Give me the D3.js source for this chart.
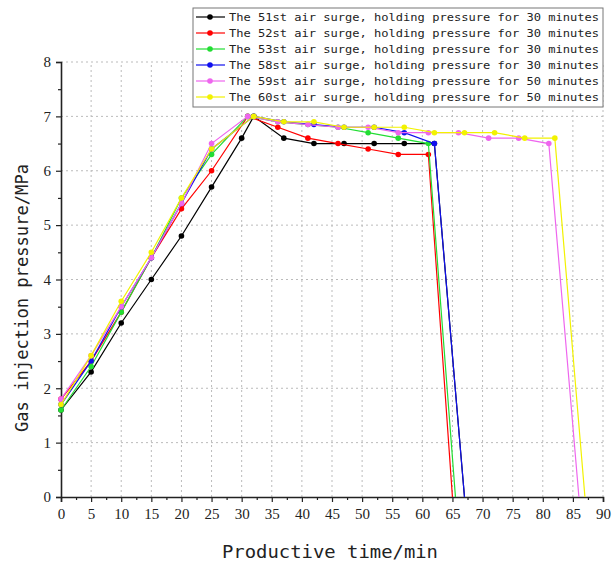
<!DOCTYPE html>
<html>
<head>
<meta charset="utf-8">
<script src="https://cdn.jsdelivr.net/npm/d3@7"></script>
<style>
  body { margin: 0; background: #fff; }
</style>
</head>
<body>
<div id="chart"></div>
<script>
// series data: [time/min, pressure/MPa]
const s51 = [[0,1.6],[5,2.3],[10,3.2],[15,4.0],[20,4.8],[25,5.7],[30,6.6],[32,7.0],[37,6.6],[42,6.5],[47,6.5],[52,6.5],[57,6.5],[62,6.5],[67,0]];
const s52 = [[0,1.8],[5,2.5],[10,3.4],[15,4.4],[20,5.3],[25,6.0],[31,7.0],[36,6.8],[41,6.6],[46,6.5],[51,6.4],[56,6.3],[61,6.3],[65,0]];
const s53 = [[0,1.6],[5,2.4],[10,3.4],[15,4.4],[20,5.5],[25,6.3],[31,7.0],[36,6.9],[41,6.85],[46,6.8],[51,6.7],[56,6.6],[61,6.5],[65.5,0]];
const s58 = [[0,1.7],[5,2.5],[10,3.5],[15,4.4],[20,5.4],[25,6.4],[32,7.0],[37,6.9],[42,6.85],[47,6.8],[52,6.8],[57,6.7],[62,6.5],[67,0]];
const s59 = [[0,1.8],[5,2.6],[10,3.5],[15,4.4],[20,5.4],[25,6.5],[31,7.0],[36,6.9],[41,6.85],[46,6.8],[51,6.8],[56,6.7],[61,6.7],[66,6.7],[71,6.6],[76,6.6],[81,6.5],[86,0]];
const s60 = [[0,1.7],[5,2.6],[10,3.6],[15,4.5],[20,5.5],[25,6.4],[32,7.0],[37,6.9],[42,6.9],[47,6.8],[52,6.8],[57,6.8],[62,6.7],[67,6.7],[72,6.7],[77,6.6],[82,6.6],[87,0]];

const seriesNames = [
  "The 51st air surge, holding pressure for 30 minutes",
  "The 52st air surge, holding pressure for 30 minutes",
  "The 53st air surge, holding pressure for 30 minutes",
  "The 58st air surge, holding pressure for 30 minutes",
  "The 59st air surge, holding pressure for 50 minutes",
  "The 60st air surge, holding pressure for 50 minutes"
];
const seriesValues = [s51, s52, s53, s58, s59, s60];
const colors = ["#000000", "#ff0000", "#22dd33", "#1010ee", "#ee66ee", "#f2f200"];

const xTicks = d3.range(0, 91, 5);
const yTicks = d3.range(0, 9, 1);

const width = 615, height = 564;
const svg = d3.select("#chart").append("svg")
  .attr("width", width)
  .attr("height", height);

const x = d3.scaleLinear().domain([0, 90]).range([61, 603]);
const y = d3.scaleLinear().domain([0, 8]).range([497, 62]);

// dotted grid
svg.append("g").selectAll("line")
  .data(xTicks.filter(d => d > 0))
  .enter().append("line")
  .attr("x1", d => x(d)).attr("x2", d => x(d))
  .attr("y1", y(0)).attr("y2", y(8))
  .attr("stroke", "#bbb")
  .attr("stroke-dasharray", "2,3");
svg.append("g").selectAll("line")
  .data(yTicks.filter(d => d > 0))
  .enter().append("line")
  .attr("x1", x(0)).attr("x2", x(90))
  .attr("y1", d => y(d)).attr("y2", d => y(d))
  .attr("stroke", "#bbb")
  .attr("stroke-dasharray", "2,3");

// axes
const xAxis = svg.append("g")
  .attr("transform", `translate(0,${y(0)})`)
  .call(d3.axisBottom(x).tickValues(xTicks).tickSize(5).tickPadding(6));
svg.append("g")
  .attr("transform", `translate(0,${y(0)})`)
  .call(d3.axisBottom(x).tickValues(d3.range(2.5, 90, 5)).tickSize(3).tickFormat(""))
  .select(".domain").remove();
const yAxis = svg.append("g")
  .attr("transform", `translate(${x(0)},0)`)
  .call(d3.axisLeft(y).tickValues(yTicks).tickSize(5).tickPadding(5));
svg.append("g")
  .attr("transform", `translate(${x(0)},0)`)
  .call(d3.axisLeft(y).tickValues(d3.range(0.5, 8, 1)).tickSize(3).tickFormat(""))
  .select(".domain").remove();

svg.selectAll(".domain").attr("stroke", "#222").attr("stroke-width", 1.6);
svg.selectAll(".tick line").attr("stroke", "#222").attr("stroke-width", 1.2);
[xAxis, yAxis].forEach(a => a.selectAll("text")
  .style("font-family", "'Liberation Serif', serif")
  .style("font-size", "15px")
  .attr("fill", "#222"));

// series
const line = d3.line().x(d => x(d[0])).y(d => y(d[1]));
seriesValues.forEach((vals, i) => {
  svg.append("path")
    .datum(vals)
    .attr("d", line)
    .attr("fill", "none")
    .attr("stroke", colors[i])
    .attr("stroke-width", 1.2);
  svg.append("g").selectAll("circle")
    .data(vals.filter(d => d[1] > 0))
    .enter().append("circle")
    .attr("cx", d => x(d[0]))
    .attr("cy", d => y(d[1]))
    .attr("r", 2.8)
    .attr("fill", colors[i]);
});

// legend
const legend = svg.append("g");
legend.append("rect")
  .attr("x", 193).attr("y", 8)
  .attr("width", 410).attr("height", 99)
  .attr("fill", "#fff")
  .attr("stroke", "#777");
seriesNames.forEach((name, i) => {
  const ly = 17 + i * 16;
  legend.append("line")
    .attr("x1", 196).attr("x2", 225)
    .attr("y1", ly).attr("y2", ly)
    .attr("stroke", colors[i]).attr("stroke-width", 1.2);
  legend.append("circle")
    .attr("cx", 210).attr("cy", ly).attr("r", 2.8)
    .attr("fill", colors[i]);
  legend.append("text")
    .attr("x", 229).attr("y", ly + 4)
    .attr("textLength", 370)
    .attr("lengthAdjust", "spacingAndGlyphs")
    .style("font-family", "'DejaVu Sans Mono', monospace")
    .style("font-size", "11px")
    .attr("fill", "#222")
    .text(name);
});

// axis titles
svg.append("text")
  .attr("x", 330).attr("y", 558)
  .attr("text-anchor", "middle")
  .attr("textLength", 216)
  .attr("lengthAdjust", "spacingAndGlyphs")
  .style("font-family", "'DejaVu Sans Mono', monospace")
  .style("font-size", "17px")
  .attr("fill", "#222")
  .text("Productive time/min");

svg.append("text")
  .attr("transform", `translate(28,298) rotate(-90)`)
  .attr("text-anchor", "middle")
  .attr("textLength", 268)
  .attr("lengthAdjust", "spacingAndGlyphs")
  .style("font-family", "'DejaVu Sans Mono', monospace")
  .style("font-size", "17px")
  .attr("fill", "#222")
  .text("Gas injection pressure/MPa");
</script>
</body>
</html>
